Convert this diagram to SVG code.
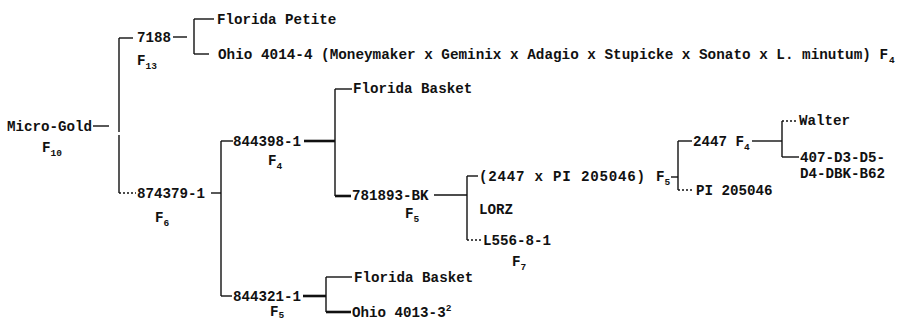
<svg xmlns="http://www.w3.org/2000/svg" width="899" height="321" viewBox="0 0 899 321">
<style>
text{font-family:"Liberation Mono","DejaVu Sans Mono",monospace;font-size:14.2px;font-weight:bold;fill:#111}
.s{font-size:9.5px}
.c line{stroke:#111;stroke-width:1.4;fill:none}
.c .t{stroke-width:2.6}
.c .d{stroke-dasharray:2 2}
</style>
<rect width="899" height="321" fill="#fff"/>
<g class="c" id="connectors">
<line x1="93" y1="126" x2="109" y2="126"/>
<line x1="119" y1="38" x2="119" y2="132"/>
<line x1="119" y1="135" x2="119" y2="193"/>
<line x1="119" y1="38" x2="133" y2="38"/>
<line class="d" x1="119" y1="193" x2="136" y2="193"/>
<line x1="173" y1="37" x2="187" y2="37"/>
<line x1="194" y1="19" x2="194" y2="54"/>
<line x1="194" y1="19" x2="214" y2="19"/>
<line x1="194" y1="54" x2="209" y2="54"/>
<line x1="211" y1="193" x2="221" y2="193"/>
<line x1="221" y1="141" x2="221" y2="296"/>
<line x1="221" y1="141" x2="233" y2="141"/>
<line x1="221" y1="296" x2="232" y2="296"/>
<line class="t" x1="304" y1="141" x2="335" y2="141"/>
<line x1="335" y1="89" x2="335" y2="196"/>
<line x1="335" y1="89" x2="352" y2="89"/>
<line class="t" x1="335" y1="196" x2="351" y2="196"/>
<line x1="434" y1="195" x2="467" y2="195"/>
<line x1="467" y1="176" x2="467" y2="240"/>
<line x1="467" y1="176" x2="478" y2="176"/>
<line class="d" x1="467" y1="240" x2="482" y2="240"/>
<line x1="671" y1="177" x2="678" y2="177"/>
<line x1="678" y1="141" x2="678" y2="190"/>
<line x1="678" y1="141" x2="692" y2="141"/>
<line class="d" x1="678" y1="190" x2="694" y2="190"/>
<line x1="752" y1="141" x2="782" y2="141"/>
<line x1="782" y1="121" x2="782" y2="157"/>
<line class="d" x1="782" y1="121" x2="798" y2="121"/>
<line x1="782" y1="157" x2="799" y2="157"/>
<line class="t" x1="303" y1="296" x2="326" y2="296"/>
<line x1="326" y1="277" x2="326" y2="312"/>
<line x1="326" y1="277" x2="352" y2="277"/>
<line class="t" x1="326" y1="312" x2="351" y2="312"/>
</g>
<g id="micro-gold"><text x="7" y="131">Micro-Gold</text><text x="42" y="152">F<tspan class="s" dy="4">10</tspan></text></g>
<g id="n7188"><text x="137" y="42">7188</text><text x="137" y="65">F<tspan class="s" dy="4">13</tspan></text></g>
<g id="florida-petite"><text x="217" y="24">Florida Petite</text></g>
<g id="ohio-4014-4"><text x="218" y="59"><tspan textLength="670" lengthAdjust="spacingAndGlyphs">Ohio 4014-4 (Moneymaker x Geminix x Adagio x Stupicke x Sonato x L. minutum) F</tspan></text><text class="s" x="889" y="63">4</text></g>
<g id="n874379-1"><text x="137" y="198">874379-1</text><text x="155" y="222">F<tspan class="s" dy="4">6</tspan></text></g>
<g id="n844398-1"><text x="233" y="146">844398-1</text><text x="268" y="165">F<tspan class="s" dy="4">4</tspan></text></g>
<g id="florida-basket-1"><text x="353" y="93">Florida Basket</text></g>
<g id="n781893-bk"><text x="352" y="200">781893-BK</text><text x="405" y="218">F<tspan class="s" dy="4">5</tspan></text></g>
<g id="n2447xpi"><text x="479" y="181"><tspan textLength="166" lengthAdjust="spacing">(2447 x PI 205046)</tspan><tspan x="656">F</tspan><tspan class="s" dy="4">5</tspan></text></g>
<g id="lorz"><text x="479" y="214">LORZ</text></g>
<g id="l556"><text x="483" y="245">L556-8-1</text><text x="512" y="266">F<tspan class="s" dy="4">7</tspan></text></g>
<g id="n2447"><text x="693" y="146">2447 F<tspan class="s" dy="4">4</tspan></text></g>
<g id="pi205046"><text x="696" y="195">PI 205046</text></g>
<g id="walter"><text x="799" y="125">Walter</text></g>
<g id="n407"><text x="800" y="162">407-D3-D5-</text><text x="800" y="178">D4-DBK-B62</text></g>
<g id="n844321-1"><text x="233" y="301">844321-1</text><text x="270" y="316">F<tspan class="s" dy="2">5</tspan></text></g>
<g id="florida-basket-2"><text x="354" y="282">Florida Basket</text></g>
<g id="ohio-4013"><text x="352" y="317">Ohio 4013-3<tspan class="s" dy="-6">2</tspan></text></g>
</svg>
